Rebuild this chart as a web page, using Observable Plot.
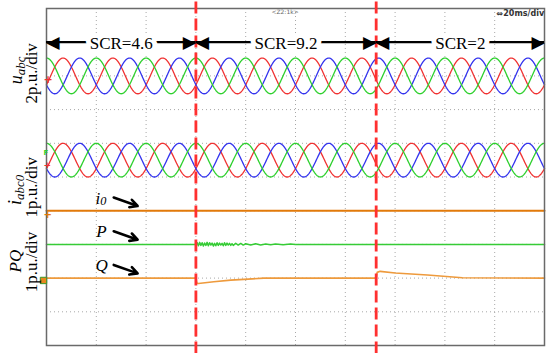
<!DOCTYPE html>
<html><head><meta charset="utf-8">
<script src="https://cdn.jsdelivr.net/npm/d3@7"></script>
<script src="https://cdn.jsdelivr.net/npm/@observablehq/plot@0.6"></script>
<style>html,body{margin:0;padding:0;background:#fff}svg{display:block}</style>
</head><body><div id="chart"></div>
<script>
// ---- data ----
const timeTicks = [0, 20, 40, 60, 80, 100, 120, 140, 160, 180, 200];   // ms, 20 ms/div
const levelTicks = [0, 1, 2, 3, 4, 5, 6, 7, 8, 9, 10];                // divisions
const segmentLabels = ["SCR=4.6", "SCR=9.2", "SCR=2"];
const segmentBounds = [0, 60, 132.4, 200];                              // ms
const phaseNames = ["a", "b", "c"];
const phaseColors = ["#f03232", "#3434ee", "#2ed02e"];
const phaseShiftDeg = [-120, -240, 0];
const gridFrequencyHz = 50;
const voltageAmplitude = 0.53, voltageOffset = 8;     // div
const currentAmplitude = 0.5, currentOffset = 5.5;    // div
const i0Level = 4, pLevel = 3, qLevel = 2, arrowLevel = 9;
const pTime = [0, 60, 60.5, 61, 61.5, 62, 62.5, 63, 63.5, 64, 64.5, 65, 65.5, 66, 66.5, 67, 67.5, 68, 68.5, 69, 69.5, 70, 70.5, 71, 71.5, 72, 72.5, 73, 73.5, 74, 74.5, 75, 76, 77, 78, 79, 80, 82, 84, 86, 88, 90, 92, 95, 98, 100, 200];
const pDev  = [0, 0, 0.05, -0.04, 0.06, -0.03, 0.05, -0.05, 0.04, -0.03, 0.06, -0.04, 0.05, -0.02, 0.04, -0.05, 0.03, -0.04, 0.05, -0.03, 0.04, -0.02, 0.03, -0.04, 0.05, -0.03, 0.04, -0.02, 0.03, -0.03, 0.02, -0.03, 0.03, -0.02, 0.03, -0.02, 0.02, -0.02, 0.02, -0.015, 0.015, -0.01, 0.01, -0.01, 0.01, 0, 0];
const qTime = [0, 60, 60.4, 61, 67.2, 74, 81, 87.3, 132.4, 132.8, 134, 140, 153, 167, 200];
const qDev  = [0, 0, -0.15, -0.16, -0.11, -0.06, -0.03, 0, 0, 0.17, 0.2, 0.15, 0.09, 0.01, 0];
const annoText = ["i0", "P", "Q"];
const annoLevel = [i0Level, pLevel, qLevel];

// ---- build tables ----
const times = d3.range(0, 200.0001, 0.2);
const waveRows = [];
phaseNames.forEach((name, k) => {
  for (const t of times) {
    const c = Math.cos(2 * Math.PI * gridFrequencyHz * t / 1000 + phaseShiftDeg[k] * Math.PI / 180);
    waveRows.push({t, phase: name, key: "u" + name, v: voltageOffset + voltageAmplitude * c});
    waveRows.push({t, phase: name, key: "i" + name, v: currentOffset + currentAmplitude * c});
  }
});
const pRows = pTime.map((t, i) => ({t, v: pLevel + pDev[i]}));
const qRows = qTime.map((t, i) => ({t, v: qLevel + qDev[i]}));
const i0Rows = [{t: 0, v: i0Level}, {t: 200, v: i0Level}];
const segs = segmentLabels.map((label, i) => ({label, x1: segmentBounds[i], x2: segmentBounds[i + 1], mid: (segmentBounds[i] + segmentBounds[i + 1]) / 2}));
const annos = annoText.map((text, i) => ({text, level: annoLevel[i]}));
const changes = segmentBounds.slice(1, -1);

const serif = "Liberation Serif, Times New Roman, serif";

const plot = Plot.plot({
  width: 550, height: 353,
  marginLeft: 46, marginRight: 6, marginTop: 8, marginBottom: 8,
  x: {domain: [0, 200], axis: null},
  y: {domain: [0, 10], axis: null},
  color: {domain: phaseNames, range: phaseColors},
  marks: [
    Plot.ruleX(timeTicks, {stroke: "#a8a8a8", strokeDasharray: "1,3", strokeWidth: 1}),
    Plot.ruleY(levelTicks, {stroke: "#a8a8a8", strokeDasharray: "1,3", strokeWidth: 1}),
    Plot.line(waveRows, {x: "t", y: "v", z: "key", stroke: "phase", strokeWidth: 1.3}),
    Plot.line(i0Rows, {x: "t", y: "v", stroke: "#e27a0a", strokeWidth: 2}),
    Plot.line(pRows, {x: "t", y: "v", stroke: "#36cc36", strokeWidth: 1.5}),
    Plot.line(qRows, {x: "t", y: "v", stroke: "#ee9a3c", strokeWidth: 1.6}),
    Plot.frame({stroke: "#6a6a6a", strokeWidth: 1.5}),
    Plot.ruleX(changes, {y1: -0.25, y2: 10.25, stroke: "#ff3030", strokeWidth: 2.8, strokeDasharray: "12,5"}),
    Plot.ruleY(segs, {y: () => arrowLevel, x1: "x1", x2: "x2", stroke: "black", strokeWidth: 2.2}),
    Plot.text(segs, {x: "x1", y: () => arrowLevel, text: () => "◀", textAnchor: "start", fill: "black", fontSize: 17, fontFamily: "DejaVu Sans", dy: 0.5}),
    Plot.text(segs, {x: "x2", y: () => arrowLevel, text: () => "▶", textAnchor: "end", fill: "black", fontSize: 17, fontFamily: "DejaVu Sans", dy: 0.5}),
    Plot.text(segs, {x: "mid", y: () => arrowLevel, text: "label", fill: "black", fontSize: 17, fontFamily: serif, stroke: "white", strokeWidth: 10, paintOrder: "stroke", dy: 1}),
    Plot.text(["<Z2:1k>"], {x: () => 95.8, y: () => 9.9, text: d => d, fontSize: 6, fill: "#666", fontFamily: "DejaVu Sans"}),
    Plot.text(["⇔20ms/div"], {x: () => 190.3, y: () => 9.84, text: d => d, fontSize: 8, fill: "#333", fontWeight: "bold", fontFamily: "DejaVu Sans"}),
    Plot.arrow(annos, {x1: () => 27, y1: d => d.level + 0.39, x2: () => 36.6, y2: d => d.level + 0.14, stroke: "black", strokeWidth: 2.6, headLength: 10, headAngle: 55}),
    Plot.text(annos.filter(d => d.text !== "i0"), {x: () => 22.1, y: d => d.level + 0.37, text: "text", fontSize: 17, fontStyle: "italic", fontFamily: serif, fill: "black"}),
    // channel markers on the left edge
    Plot.text([voltageOffset], {frameAnchor: "left", y: d => d - 0.1, text: () => "+", fill: "#f03232", fontSize: 11, fontWeight: "bold", dx: -3, fontFamily: "DejaVu Sans"}),
    Plot.text([currentOffset], {frameAnchor: "left", y: d => d + 0.22, text: () => "F", fill: "#2ed02e", fontSize: 7, fontWeight: "bold", dx: -3, fontFamily: "DejaVu Sans"}),
    Plot.text([currentOffset], {frameAnchor: "left", y: d => d - 0.14, text: () => "+", fill: "#f03232", fontSize: 9, fontWeight: "bold", dx: -3, fontFamily: "DejaVu Sans"}),
    Plot.text([i0Level], {frameAnchor: "left", y: d => d - 0.13, text: () => "+", fill: "#e27a0a", fontSize: 10, fontWeight: "bold", dx: -3, fontFamily: "DejaVu Sans"}),
    Plot.dot([qLevel], {frameAnchor: "left", y: d => d - 0.07, symbol: "square", r: 3.6, fill: "#e8861c", stroke: "#3a9a2a", strokeWidth: 1, dx: -3})
  ]
});
document.getElementById("chart").appendChild(plot);

// rich text (italic + subscripts) placed with the plot's own scales
const svg = d3.select(plot);
const sx = plot.scale("x"), sy = plot.scale("y");
const g = svg.append("g").attr("font-family", serif).attr("fill", "black");
function rich(x, y, parts, rotate, size) {
  const t = g.append("text")
    .attr("transform", `translate(${x},${y}) rotate(${rotate})`)
    .attr("text-anchor", "middle").attr("dominant-baseline", "central")
    .attr("font-size", size);
  let shifted = false;
  for (const [s, o] of parts) {
    const ts = t.append("tspan").text(s);
    if (o.italic) ts.attr("font-style", "italic");
    if (o.sub) { ts.attr("font-size", size * 0.72); if (!shifted) { ts.attr("dy", "0.3em"); shifted = true; } }
  }
}
rich(16, sy.apply(8.15), [["u", {italic: 1}], ["abc", {italic: 1, sub: 1}]], -90, 18);
rich(31, sy.apply(8.06), [["2p.u./div", {}]], -90, 17);
rich(15, sy.apply(4.6), [["i", {italic: 1}], ["abc0", {italic: 1, sub: 1}]], -90, 18);
rich(31, sy.apply(4.68), [["1p.u./div", {}]], -90, 17);
rich(15, sy.apply(2.49), [["PQ", {italic: 1}]], -90, 17);
rich(31, sy.apply(2.46), [["1p.u./div", {}]], -90, 17);
rich(sx.apply(22.1), sy.apply(annoLevel[0] + 0.37), [["i", {italic: 1}], ["0", {italic: 1, sub: 1}]], 0, 17);
</script>
</body></html>
